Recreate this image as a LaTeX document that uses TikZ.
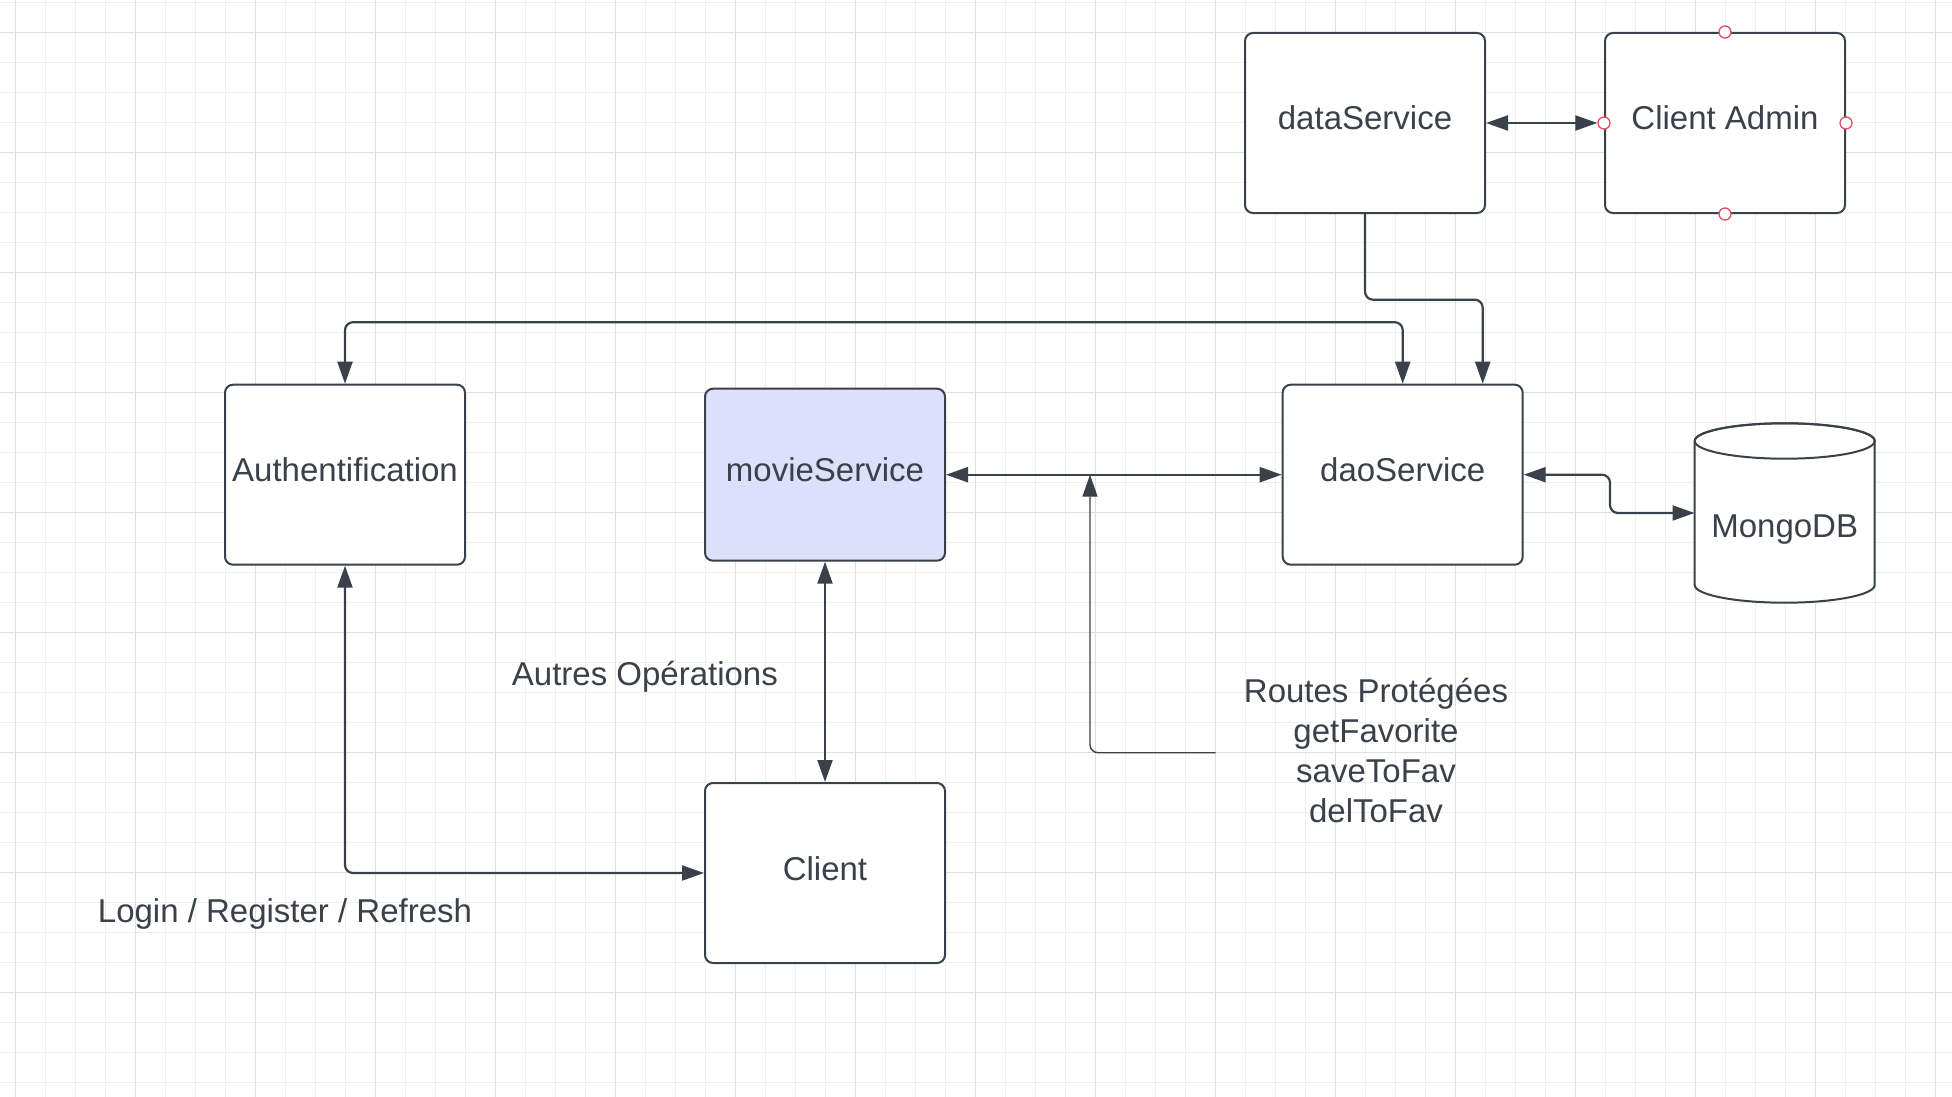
\documentclass[tikz,border=0pt]{standalone}
\usepackage{fontspec}
\setmainfont{Liberation Sans}
\usetikzlibrary{arrows.meta}
\definecolor{ink}{RGB}{58,65,74}
\definecolor{gridminor}{RGB}{239,239,239}
\definecolor{gridmajor}{RGB}{222,222,222}
\definecolor{lav}{RGB}{222,223,251}
\definecolor{portred}{RGB}{226,78,96}
\begin{document}
\begin{tikzpicture}[x=1pt,y=-1pt,
  >={Triangle[length=22pt,width=15pt]},
  box/.style={draw=ink, line width=2pt, rounded corners=8pt, fill=white,
    minimum width=240pt, minimum height=180pt, inner sep=0pt, text=ink,
    text height=24pt, text depth=10pt,
    font=\fontsize{33}{40}\selectfont},
  conn/.style={draw=ink, line width=2.2pt, rounded corners=8pt},
  thinconn/.style={draw=ink, line width=1.4pt, rounded corners=8pt},
  lbl/.style={text=ink, inner sep=0pt, font=\fontsize{33}{40}\selectfont},
  onelbl/.style={lbl, text height=24pt, text depth=10pt},
  port/.style={circle, draw=portred, fill=white, line width=1.3pt,
    minimum size=12pt, inner sep=0pt}]
\useasboundingbox (0,0) rectangle (1952,1097);
\fill[white] (0,0) rectangle (1952,1097);
% grid
\foreach \k in {0,...,64} \draw[gridminor, line width=1pt] (15.3+30*\k,0) -- (15.3+30*\k,1097);
\foreach \k in {0,...,36} \draw[gridminor, line width=1pt] (0,2.3+30*\k) -- (1952,2.3+30*\k);
\foreach \k in {0,...,16} \draw[gridmajor, line width=1.2pt] (15.3+120*\k,0) -- (15.3+120*\k,1097);
\foreach \k in {0,...,8} \draw[gridmajor, line width=1.2pt] (0,32.3+120*\k) -- (1952,32.3+120*\k);

% boxes
\node[box] (ds) at (1365,123) {dataService};
\node[box] (ca) at (1725,123) {Client Admin};
\node[box] (auth) at (345,474.7) {Authentification};
\node[box, fill=lav, minimum height=172pt] (movie) at (825,474.7) {movieService};
\node[box] (dao) at (1402.7,474.7) {daoService};
\node[box] (client) at (825,873) {Client};

% MongoDB cylinder
\node[inner sep=0pt, minimum width=180pt, minimum height=179.4pt] (mongo) at (1784.7,513) {};
\draw[draw=ink, line width=2pt, fill=white]
  (1694.7,441) -- (1694.7,585)
  arc[start angle=180, end angle=0, x radius=90, y radius=17.7]
  -- (1874.7,441)
  arc[start angle=0, end angle=-180, x radius=90, y radius=17.7] -- cycle;
\draw[draw=ink, line width=2pt] (1784.7,441) ellipse[x radius=90, y radius=17.7];
\node[onelbl] (mongolbl) at (1784.7,530.3) {MongoDB};

% ports on Client Admin
\node[port] (pN) at (ca.north) {};
\node[port] (pS) at (ca.south) {};
\node[port] (pW) at (ca.west) {};
\node[port] (pE) at (ca.east) {};

% labels
\node[onelbl] (autres) at (644.9,678) {Autres Opérations};
\node[onelbl] (login) at (285,915.3) {Login / Register / Refresh};
\node[lbl, align=center] (routes) at (1376,750.5) {Routes Protégées\\getFavorite\\saveToFav\\delToFav};
\coordinate (rfree) at (1215.6,752.7);
\coordinate (junc) at (1090,474.7);

% connectors
\draw[conn,<->] (ds.east) -- (pW);
\draw[conn,->] (ds.south) -- ++(0,85.7) -| ([xshift=80pt]dao.north);
\draw[conn,<->] (auth.north) -- ++(0,-61.5) -| (dao.north);
\draw[conn,<->] (movie.east) -- (dao.west);
\draw[thinconn,->] (rfree) -| (junc);
\draw[conn,<->] (movie.south) -- (client.north);
\draw[conn,<->] (auth.south) |- (client.west);
\draw[conn,<->] (dao.east) -- ++(86.3,0) |- (mongo.west);
\end{tikzpicture}
\end{document}
